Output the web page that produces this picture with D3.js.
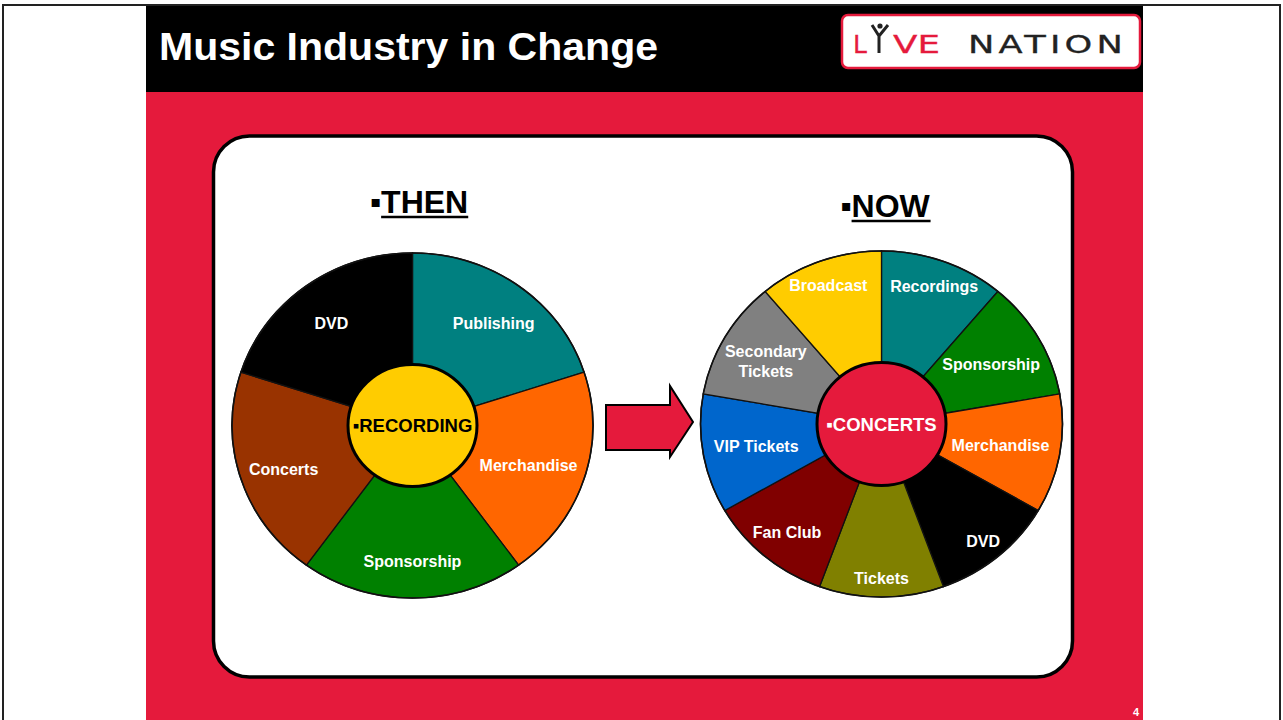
<!DOCTYPE html>
<html>
<head>
<meta charset="utf-8">
<title>Music Industry in Change</title>
<script src="https://cdn.jsdelivr.net/npm/d3@7"></script>
<style>
  body { margin: 0; background: #fff; }
  svg { display: block; font-family: "Liberation Sans", Arial, Helvetica, sans-serif; }
  .slice { stroke: #111; stroke-width: 1.3; vector-effect: non-scaling-stroke; }
  .rim { fill: none; stroke: #111; stroke-width: 1.6; vector-effect: non-scaling-stroke; }
  .hub { stroke: #000; stroke-width: 3; }
  .slice-label { fill: #fff; font-weight: bold; font-size: 16px; }
  .hub-label { font-weight: bold; font-size: 18.5px; }
  .wheel-title { fill: #000; font-weight: bold; font-size: 32px; }
  .logo-type { font-family: "DejaVu Sans", sans-serif; font-size: 25px; stroke-width: 0.3; }
</style>
</head>
<body>
<div id="chart"></div>
<script>
// ---- data ----
const slideTitle = `Music Industry in Change`;
const pageNumber = `4`;
const wheelTitles = [`THEN`, `NOW`];
const hubLabels = [`RECORDING`, `CONCERTS`];

// clockwise from 12 o'clock, every revenue stream gets an equal wedge
const thenCategories = [`Publishing`, `Merchandise`, `Sponsorship`, `Concerts`, `DVD`];
const thenShares = [1, 1, 1, 1, 1];
const nowCategories = [`Recordings`, `Sponsorship`, `Merchandise`, `DVD`, `Tickets`, `Fan Club`, `VIP Tickets`, `Secondary Tickets`, `Broadcast`];
const nowShares = [1, 1, 1, 1, 1, 1, 1, 1, 1];

// ---- styling ----
const RED = `#e51a3c`;
const sliceColor = d3.scaleOrdinal()
  .domain([`Publishing`, `Recordings`, `Merchandise`, `Sponsorship`, `Concerts`, `DVD`, `Tickets`, `Fan Club`, `VIP Tickets`, `Secondary Tickets`, `Broadcast`])
  .range([`#008080`, `#008080`, `#ff6600`, `#008000`, `#993300`, `#000000`, `#808000`, `#800000`, `#0066cc`, `#808080`, `#ffcc00`]);
const hubFill = [`#ffcc00`, RED];
const hubText = [`#000`, `#fff`];

const W = 1283, H = 720;
const svg = d3.select(`#chart`).append(`svg`)
    .attr(`width`, W)
    .attr(`height`, H);

// page frame
svg.append(`rect`)
    .attr(`x`, 3).attr(`y`, 5).attr(`width`, 1277).attr(`height`, 740)
    .attr(`fill`, `#fff`).attr(`stroke`, `#222`).attr(`stroke-width`, 2);

// slide body + header
svg.append(`rect`).attr(`x`, 146).attr(`y`, 6).attr(`width`, 997).attr(`height`, H).attr(`fill`, RED);
svg.append(`rect`).attr(`x`, 146).attr(`y`, 6).attr(`width`, 997).attr(`height`, 86).attr(`fill`, `#000`);

svg.append(`text`)
    .attr(`x`, 159).attr(`y`, 60)
    .attr(`fill`, `#fff`)
    .attr(`font-weight`, `bold`)
    .attr(`font-size`, 38)
    .attr(`textLength`, 499)
    .attr(`lengthAdjust`, `spacingAndGlyphs`)
    .text(slideTitle);

// Live Nation logo
const logo = svg.append(`g`);
logo.append(`rect`)
    .attr(`x`, 842).attr(`y`, 15).attr(`width`, 298).attr(`height`, 53).attr(`rx`, 6)
    .attr(`fill`, `#fff`).attr(`stroke`, RED).attr(`stroke-width`, 2.5);
logo.append(`text`)
    .attr(`class`, `logo-type`)
    .attr(`x`, 853).attr(`y`, 53)
    .attr(`fill`, RED).attr(`stroke`, RED)
    .text(`L`);
// the jumping figure that stands in for the I
logo.append(`circle`).attr(`cx`, 880).attr(`cy`, 26).attr(`r`, 2.6).attr(`fill`, `#222`);
logo.append(`path`)
    .attr(`d`, `M872,25 L879,36 L888,25 M879,36 L879,53`)
    .attr(`fill`, `none`).attr(`stroke`, `#222`).attr(`stroke-width`, 3).attr(`stroke-linejoin`, `round`);
logo.append(`text`)
    .attr(`class`, `logo-type`)
    .attr(`x`, 893).attr(`y`, 53)
    .attr(`fill`, RED).attr(`stroke`, RED)
    .attr(`textLength`, 47).attr(`lengthAdjust`, `spacingAndGlyphs`)
    .text(`VE`);
logo.append(`text`)
    .attr(`class`, `logo-type`)
    .attr(`x`, 968).attr(`y`, 53)
    .attr(`fill`, `#222`).attr(`stroke`, `#222`)
    .attr(`letter-spacing`, 3)
    .attr(`textLength`, 159).attr(`lengthAdjust`, `spacingAndGlyphs`)
    .text(`NATION`);

// white rounded panel
svg.append(`rect`)
    .attr(`x`, 213.5).attr(`y`, 136).attr(`width`, 859).attr(`height`, 541).attr(`rx`, 36)
    .attr(`fill`, `#fff`).attr(`stroke`, `#000`).attr(`stroke-width`, 3.5);

// arrow between the wheels
svg.append(`path`)
    .attr(`d`, `M606,405 L670,405 L670,386 L693,422 L670,457 L670,450 L606,450 Z`)
    .attr(`fill`, RED).attr(`stroke`, `#000`).attr(`stroke-width`, 2).attr(`stroke-linejoin`, `miter`);

svg.append(`text`)
    .attr(`x`, 1136).attr(`y`, 716)
    .attr(`fill`, `#fff`).attr(`font-weight`, `bold`).attr(`font-size`, 11)
    .attr(`text-anchor`, `middle`)
    .text(pageNumber);

const wheels = [
  { categories: thenCategories, shares: thenShares, cx: 412.5, cy: 425.5, r: 180.5, hubRx: 64.5, hubRy: 61, labelCap: 138, labelDrop: 4, titleX: 419, titleY: 213 },
  { categories: nowCategories, shares: nowShares, cx: 881.5, cy: 424, r: 181, hubRx: 64.5, hubRy: 61.5, labelCap: 160, labelDrop: 1, titleX: 885, titleY: 217 }
];
const squash = 0.956; // the slide picture is a touch wider than tall

wheels.forEach((w, i) => {
  const g = svg.append(`g`).attr(`transform`, `translate(${w.cx},${w.cy})`);
  const rows = w.categories.map((c, k) => ({ name: c, value: w.shares[k] }));

  const pie = d3.pie().sort(null).value((d) => d.value);
  const arc = d3.arc().innerRadius(0).outerRadius(w.r);
  const arcs = pie(rows);

  const disc = g.append(`g`).attr(`transform`, `scale(1,${squash})`);
  disc.selectAll(`path.slice`)
      .data(arcs)
    .enter().append(`path`)
      .attr(`class`, `slice`)
      .attr(`d`, arc)
      .attr(`fill`, (d) => sliceColor(d.data.name));
  disc.append(`circle`).attr(`class`, `rim`).attr(`r`, w.r);

  g.append(`ellipse`)
      .attr(`class`, `hub`)
      .attr(`rx`, w.hubRx).attr(`ry`, w.hubRy)
      .attr(`fill`, hubFill[i]);

  // slice labels: wide words get pulled in where the wedge runs sideways
  arcs.forEach((d) => {
    const a = (d.startAngle + d.endAngle) / 2;
    const t = g.append(`text`).attr(`class`, `slice-label`).attr(`text-anchor`, `middle`);
    let lines = [d.data.name];
    t.text(d.data.name);
    if (t.node().getComputedTextLength() > 120 && d.data.name.includes(` `)) {
      const cut = d.data.name.lastIndexOf(` `);
      lines = [d.data.name.slice(0, cut), d.data.name.slice(cut + 1)];
    }
    t.text(null);
    const spans = lines.map((l) => t.append(`tspan`).text(l));
    const widest = d3.max(spans, (s) => s.node().getComputedTextLength());
    const rr = Math.min(w.labelCap, w.r - 12 - Math.abs(Math.sin(a)) * widest / 2);
    const x = rr * Math.sin(a);
    const y = -rr * Math.cos(a) * squash + w.labelDrop;
    const lineH = 20;
    spans.forEach((s, k) => {
      s.attr(`x`, x)
       .attr(`y`, y + (k - (lines.length - 1) / 2) * lineH)
       .attr(`dy`, `0.36em`);
    });
  });

  // hub label with its square bullet
  g.append(`text`)
      .attr(`class`, `hub-label`)
      .attr(`text-anchor`, `middle`)
      .attr(`dy`, `0.36em`)
      .attr(`fill`, hubText[i])
      .text(`\u25aa${hubLabels[i]}`);

  // wheel heading, underlined word only
  const head = svg.append(`text`)
      .attr(`class`, `wheel-title`)
      .attr(`x`, w.titleX)
      .attr(`y`, w.titleY)
      .attr(`text-anchor`, `middle`);
  const bullet = head.append(`tspan`).text(`\u25aa`);
  head.append(`tspan`).text(wheelTitles[i]);
  const box = head.node().getBBox();
  const bw = bullet.node().getComputedTextLength();
  svg.append(`line`)
      .attr(`x1`, box.x + bw).attr(`x2`, box.x + box.width)
      .attr(`y1`, w.titleY + 4).attr(`y2`, w.titleY + 4)
      .attr(`stroke`, `#000`).attr(`stroke-width`, 2.5);
});
</script>
</body>
</html>
